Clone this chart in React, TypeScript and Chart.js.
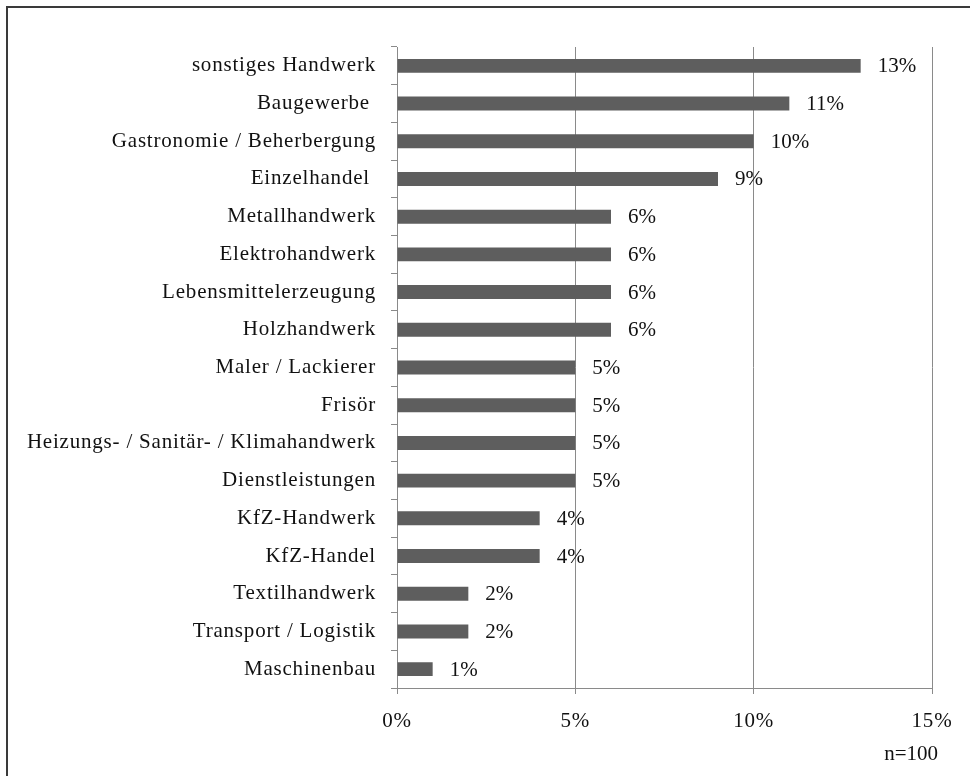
import React, { useEffect, useRef } from "react";
import { Chart, registerables } from "chart.js";

Chart.register(...registerables);

const categories = [
  "sonstiges Handwerk",
  "Baugewerbe ",
  "Gastronomie / Beherbergung",
  "Einzelhandel ",
  "Metallhandwerk",
  "Elektrohandwerk",
  "Lebensmittelerzeugung",
  "Holzhandwerk",
  "Maler / Lackierer",
  "Frisör",
  "Heizungs- / Sanitär- / Klimahandwerk",
  "Dienstleistungen",
  "KfZ-Handwerk",
  "KfZ-Handel",
  "Textilhandwerk",
  "Transport / Logistik",
  "Maschinenbau",
];
const values = [13, 11, 10, 9, 6, 6, 6, 6, 5, 5, 5, 5, 4, 4, 2, 2, 1];
const xTicks = [0, 5, 10, 15];
const note = "n=100";

const FONT = "'Liberation Serif', 'Times New Roman', serif";
const GRAY = "#8a8a8a";
const SIZE = 21;

export default function App() {
  const ref = useRef<HTMLCanvasElement | null>(null);
  useEffect(() => {
    if (!ref.current) return;
    const extras = {
      id: "extras",
      beforeDraw(chart: any) {
        (chart.ctx as any).letterSpacing = "0.8px";
      },
      afterDatasetsDraw(chart: any) {
        const ctx = chart.ctx;
        const meta = chart.getDatasetMeta(0);
        ctx.save();
        (ctx as any).letterSpacing = "0px";
        ctx.font = `${SIZE}px ${FONT}`;
        ctx.fillStyle = "#111";
        ctx.textAlign = "left";
        ctx.textBaseline = "middle";
        meta.data.forEach((el: any, i: number) => {
          ctx.fillText(values[i] + "%", el.x + 17, el.y + 1);
        });
        ctx.restore();
      },
      afterDraw(chart: any) {
        const ctx = chart.ctx;
        ctx.save();
        (ctx as any).letterSpacing = "0px";
        ctx.font = `${SIZE}px ${FONT}`;
        ctx.fillStyle = "#111";
        ctx.textAlign = "right";
        ctx.textBaseline = "middle";
        ctx.fillText(note, 938, 754);
        ctx.strokeStyle = "#3a3a3a";
        ctx.lineWidth = 2;
        ctx.beginPath();
        ctx.moveTo(7, 800);
        ctx.lineTo(7, 7);
        ctx.lineTo(1000, 7);
        ctx.stroke();
        ctx.restore();
      },
    };
    const chart = new Chart(ref.current, {
      type: "bar",
      data: {
        labels: categories,
        datasets: [
          {
            data: values,
            backgroundColor: "#5e5e5e",
            borderWidth: 0,
            barPercentage: 0.37,
            categoryPercentage: 1,
          },
        ],
      },
      options: {
        indexAxis: "y",
        animation: false,
        responsive: false,
        layout: { padding: { left: 0, top: 47, right: 38, bottom: 0 } },
        plugins: { legend: { display: false }, tooltip: { enabled: false } },
        scales: {
          x: {
            min: 0,
            max: 15,
            afterBuildTicks(scale: any) {
              scale.ticks = xTicks.map((v) => ({ value: v }));
            },
            afterFit(scale: any) {
              scale.height = 776 - 688;
            },
            grid: {
              color: GRAY,
              lineWidth: 1,
              tickLength: 6,
              drawOnChartArea: true,
            },
            border: { display: true, color: GRAY, width: 1 },
            ticks: {
              autoSkip: false,
              maxRotation: 0,
              padding: 15,
              color: "#111",
              font: { family: FONT, size: SIZE },
              callback: (v: any) => v + "%",
            },
          },
          y: {
            afterFit(scale: any) {
              scale.width = 397;
            },
            grid: {
              display: true,
              drawOnChartArea: false,
              offset: true,
              tickLength: 6,
              color: GRAY,
            },
            border: { display: true, color: GRAY, width: 1 },
            ticks: {
              autoSkip: false,
              padding: 15,
              color: "#111",
              font: { family: FONT, size: SIZE },
            },
          },
        },
      },
      plugins: [extras],
    } as any);
    return () => chart.destroy();
  }, []);
  return (
    <div style={{ position: "fixed", left: 0, top: 0, width: 970, height: 776, background: "#fff" }}>
      <canvas ref={ref} width={970} height={776} style={{ display: "block" }} />
    </div>
  );
}
